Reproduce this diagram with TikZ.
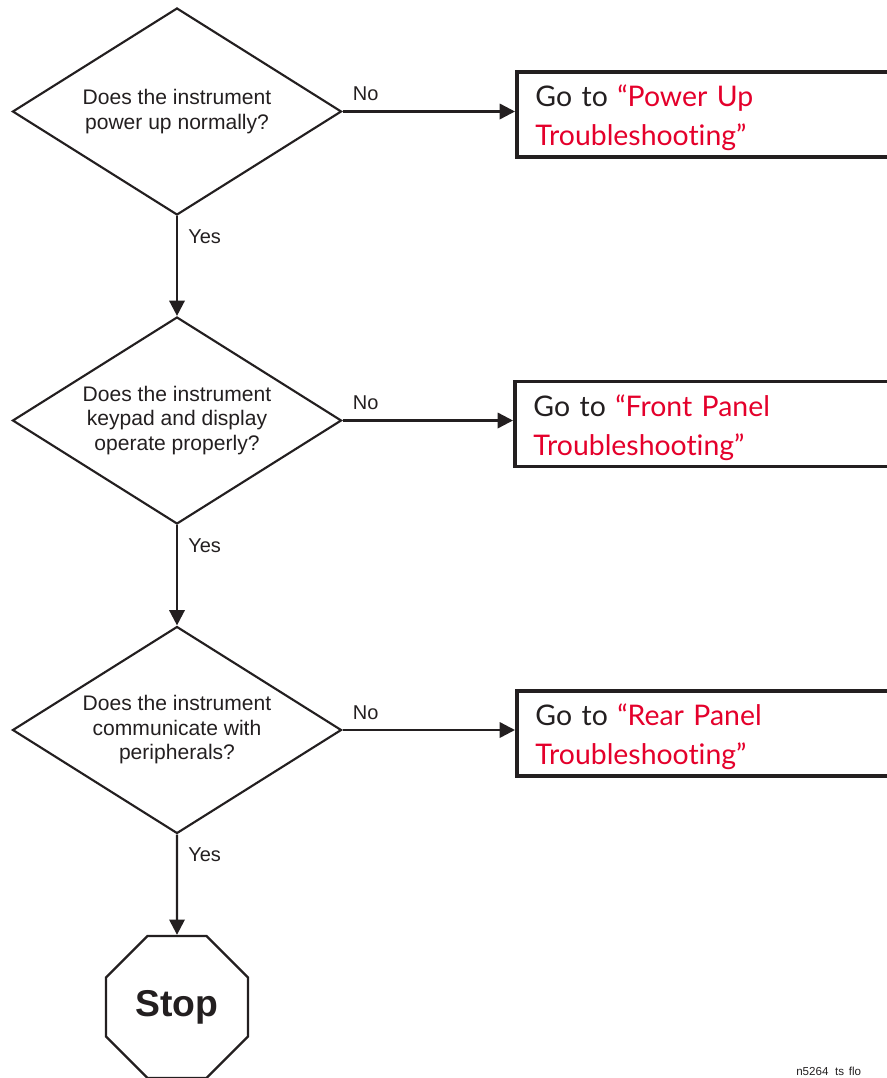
\documentclass[tikz,border=0pt]{standalone}
\usepackage{fontspec}
\setmainfont{Liberation Sans}
\newfontfamily\boxfont[Ligatures=NoCommon]{Lato}
\usetikzlibrary{shapes.geometric,arrows.meta}
\definecolor{ink}{RGB}{35,31,32}
\definecolor{linkred}{RGB}{228,0,43}
\tikzset{
  decision/.style={draw=ink,line width=1.6pt,diamond,aspect=1.59,inner sep=0pt,
    minimum width=246.75pt,minimum height=155.25pt,align=center,text=ink,
    font=\fontsize{15.8}{18.4}\selectfont},
  gotobox/.style={draw=ink,line width=2.7pt,rectangle,anchor=west,minimum height=63.75pt,
    text width=285pt,inner xsep=14pt,align=left,text=ink,
    font=\boxfont\fontsize{21.3}{29.3}\selectfont,
    execute at begin node={\rule{0pt}{21.5pt}}},
  stopsign/.style={draw=ink,line width=1.7pt,regular polygon,regular polygon sides=8,
    minimum size=115.3pt,inner sep=0pt,text=ink,font=\bfseries\fontsize{28}{30}\selectfont},
  flowline/.style={draw=ink,line width=1.8pt,-{Triangle[length=11.5pt,width=11.5pt]}},
  answer/.style={text=ink,inner sep=0pt,anchor=base west,font=\fontsize{15}{18}\selectfont}
}
\begin{document}
\begin{tikzpicture}[x=0.75pt,y=-0.75pt]
  \useasboundingbox (0,0) rectangle (886,1078);
  % questions
  \node[decision] (q1) at (177,111.5) {Does the instrument\\power up normally?};
  \node[decision] (q2) at (177,420.5) {Does the instrument\\keypad and display\\operate properly?};
  \node[decision] (q3) at (177,730) {Does the instrument\\communicate with\\peripherals?};
  \node[stopsign] (stop) at (177,1007) {Stop};
  % where to go
  \node[gotobox] (box1) at (515,114.5) {Go to \textcolor{linkred}{“Power Up}\\\textcolor{linkred}{Troubleshooting”}};
  \node[gotobox] (box2) at (513,424) {Go to \textcolor{linkred}{“Front Panel}\\\textcolor{linkred}{Troubleshooting”}};
  \node[gotobox] (box3) at (515,733.5) {Go to \textcolor{linkred}{“Rear Panel}\\\textcolor{linkred}{Troubleshooting”}};
  % connectors
  \draw[flowline] (q1) -- (q2);
  \draw[flowline] (q2) -- (q3);
  \draw[flowline] (q3) -- (stop);
  \draw[flowline] (q1.east) -- (q1.east -| box1.west);
  \draw[flowline] (q2.east) -- (q2.east -| box2.west);
  \draw[flowline] (q3.east) -- (q3.east -| box3.west);
  % answers
  \node[answer] (no1) at ([shift={(10,-11)}]q1.east) {No};
  \node[answer] (no2) at ([shift={(10,-11)}]q2.east) {No};
  \node[answer] (no3) at ([shift={(10,-11)}]q3.east) {No};
  \node[answer] (yes1) at ([shift={(11,27)}]q1.south) {Yes};
  \node[answer] (yes2) at ([shift={(11,27)}]q2.south) {Yes};
  \node[answer] (yes3) at ([shift={(11,27)}]q3.south) {Yes};
  \node[text=ink,inner sep=0pt,anchor=base west,font=\fontsize{8.7}{10}\selectfont] (figid) at (796,1075) {n5264\hspace{5pt}ts\hspace{3.5pt}flo};
\end{tikzpicture}
\end{document}
